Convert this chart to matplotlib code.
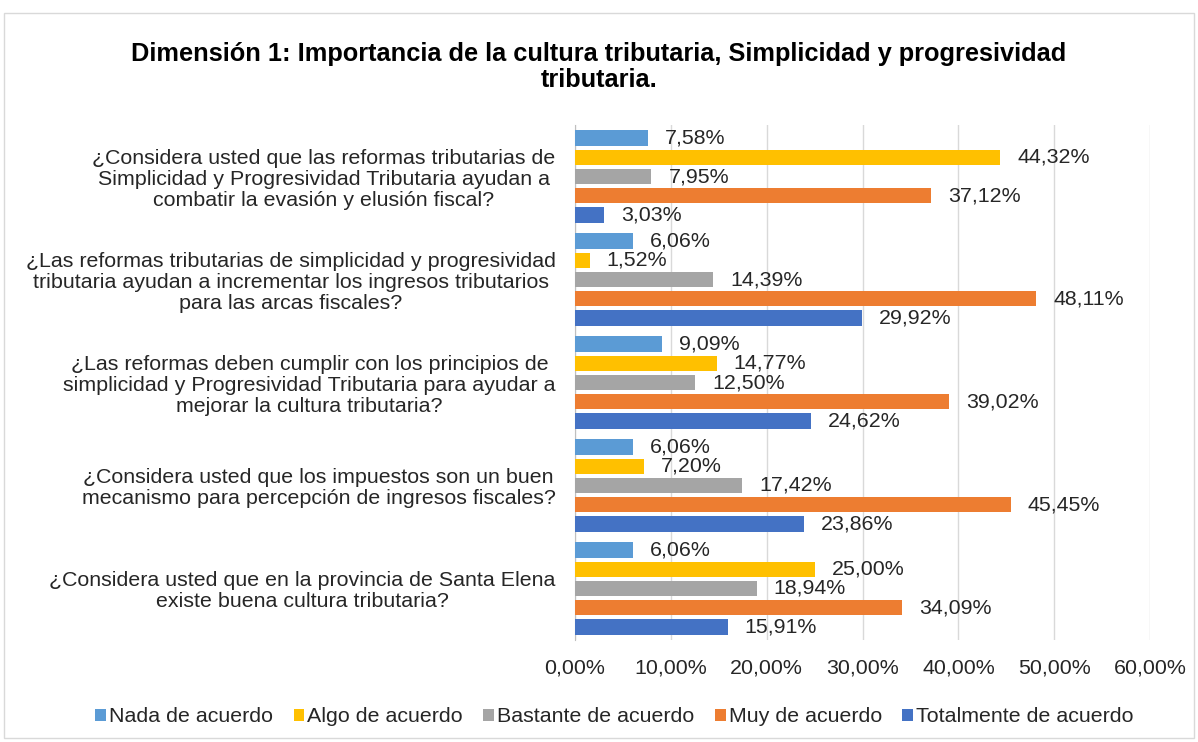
import numpy as np
import matplotlib.pyplot as plt
from matplotlib.patches import Rectangle

plt.rcParams['font.family'] = ['Liberation Sans', 'DejaVu Sans']

preguntas = [
    "¿Considera usted que las reformas tributarias de\nSimplicidad y Progresividad Tributaria ayudan a\ncombatir la evasión y elusión fiscal?",
    "¿Las reformas tributarias de simplicidad y progresividad\ntributaria ayudan a incrementar los ingresos tributarios\npara las arcas fiscales?",
    "¿Las reformas deben cumplir con los principios de\nsimplicidad y Progresividad Tributaria para ayudar a\nmejorar la cultura tributaria?",
    "¿Considera usted que los impuestos son un buen\nmecanismo para percepción de ingresos fiscales?",
    "¿Considera usted que en la provincia de Santa Elena\nexiste buena cultura tributaria?",
]
series = ["Nada de acuerdo", "Algo de acuerdo", "Bastante de acuerdo",
          "Muy de acuerdo", "Totalmente de acuerdo"]
colores = ["#5B9BD5", "#FFC000", "#A5A5A5", "#ED7D31", "#4472C4"]

nada = [7.58, 6.06, 9.09, 6.06, 6.06]
algo = [44.32, 1.52, 14.77, 7.20, 25.00]
bastante = [7.95, 14.39, 12.50, 17.42, 18.94]
muy = [37.12, 48.11, 39.02, 45.45, 34.09]
totalmente = [3.03, 29.92, 24.62, 23.86, 15.91]
valores = [nada, algo, bastante, muy, totalmente]

fs = 15.4

fig = plt.figure(figsize=(11.98, 7.42), dpi=100)
fig.patches.append(Rectangle((4/1198, 4/742), 1190/1198, 725/742,
                             transform=fig.transFigure, fill=False,
                             edgecolor='#D9D9D9', linewidth=1))
ax = fig.add_axes([0.48, 0.1375, 0.48, 0.694])

n = len(preguntas)
ypos = np.arange(n)[::-1]
paso = 0.186
alto = 0.15
for j, (nombre, vals, c) in enumerate(zip(series, valores, colores)):
    y = ypos + (2 - j) * paso
    ax.barh(y, vals, height=alto, color=c, label=nombre, zorder=3)
    for yy, v in zip(y, vals):
        ax.text(v + 1.8, yy, f"{v:.2f}%".replace('.', ','), va='center',
                ha='left', fontsize=fs, color='#262626', zorder=4)

ax.set_xlim(0, 60)
ax.set_ylim(-0.5, n - 0.5)
ax.set_xticks(np.arange(0, 61, 10))
ax.set_xticklabels([f"{t:.2f}%".replace('.', ',') for t in np.arange(0, 61, 10)],
                   fontsize=fs, color='#262626')
ax.set_yticks(ypos)
ax.set_yticklabels(preguntas, fontsize=fs, color='#262626', ha='right',
                   multialignment='center', linespacing=1.13)
ax.tick_params(axis='y', length=0, pad=14)
ax.tick_params(axis='x', length=0, pad=13)
ax.grid(axis='x', color='#D9D9D9', linewidth=1, zorder=0)
for s in ['top', 'right', 'bottom']:
    ax.spines[s].set_visible(False)
ax.spines['left'].set_color('#BFBFBF')

fig.suptitle("Dimensión 1: Importancia de la cultura tributaria, Simplicidad y progresividad\ntributaria.",
             fontsize=18.3, fontweight='bold', y=0.944, color='#000000',
             linespacing=1.15)

fig.legend(loc='center', bbox_to_anchor=(0.513, 0.034), ncol=5, frameon=False,
           fontsize=fs, handlelength=0.5, handleheight=0.5,
           handletextpad=0.15, columnspacing=0.95, labelcolor='#262626')

fig.savefig("out.png", dpi=100)
